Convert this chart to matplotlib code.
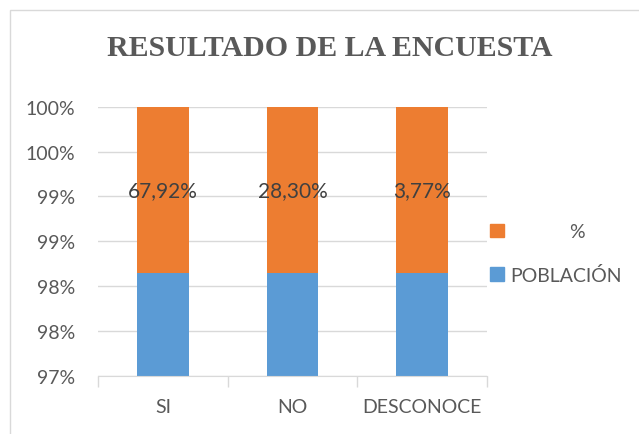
import math
import numpy as np
import matplotlib
matplotlib.use("Agg")
import matplotlib.pyplot as plt
from matplotlib.patches import Rectangle, Patch
from matplotlib.ticker import FuncFormatter

plt.rcParams['font.family'] = ['Lato', 'DejaVu Sans']

categories = ["SI", "NO", "DESCONOCE"]
poblacion = np.array([36, 15, 2])
porcentaje = np.array([0.6792, 0.2830, 0.0377])
pct_labels = ["67,92%", "28,30%", "3,77%"]

total = poblacion + porcentaje
share_pob = poblacion / total
share_pct = porcentaje / total

blue = "#5b9bd5"
orange = "#ed7d31"
grid_c = "#d9d9d9"
text_c = "#595959"

fig = plt.figure(figsize=(6.39, 4.35), dpi=100)
fig.patches.append(Rectangle((10 / 639, -0.1), 1.2, 1 - 11 / 435 + 0.1,
                             transform=fig.transFigure, fill=False,
                             edgecolor=grid_c, linewidth=1))

ax = fig.add_axes([98.3 / 639, 1 - 377 / 435, (486.7 - 98.3) / 639, (377 - 107.7) / 435])
x = np.arange(len(categories))
ax.bar(x, share_pob, width=0.4, color=blue, zorder=3)
ax.bar(x, share_pct, width=0.4, bottom=share_pob, color=orange, zorder=3)

for xi, b, h, lab in zip(x, share_pob, share_pct, pct_labels):
    ax.text(xi, b + h / 2, lab, ha="center", va="center", fontsize=15,
            color="#404040", zorder=4)

ax.set_xlim(-0.5, 2.5)
ax.set_ylim(0.97, 1.0)
ax.set_yticks(np.linspace(0.97, 1.0, 7))
ax.yaxis.set_major_formatter(FuncFormatter(lambda v, p: "%d%%" % math.floor(v * 100 + 0.5 + 1e-9)))
ax.grid(axis="y", color=grid_c, linewidth=1, zorder=0)
ax.set_xticks(x)
ax.set_xticklabels(categories)
ax.set_xticks([-0.5, 0.5, 1.5, 2.5], minor=True)
ax.tick_params(axis="x", which="major", length=0, pad=16, labelsize=14, labelcolor=text_c)
ax.tick_params(axis="x", which="minor", length=8, color=grid_c, width=1)
ax.tick_params(axis="y", length=0, pad=16.5, labelsize=14, labelcolor=text_c)
for s in ["top", "right", "left"]:
    ax.spines[s].set_visible(False)
ax.spines["bottom"].set_color(grid_c)
ax.spines["bottom"].set_zorder(5)

fig.text(330 / 639, 1 - 49 / 435, "RESULTADO DE LA ENCUESTA", ha="center", va="center",
         fontsize=21.5, fontweight="bold", color=text_c, family="Liberation Serif")

handles = [Patch(color=orange), Patch(color=blue)]
labels = ["            %", "POBLACIÓN"]
fig.legend(handles, labels, loc="center left", bbox_to_anchor=(490 / 639, 1 - 254.5 / 435),
           frameon=False, fontsize=14, labelcolor=text_c, borderpad=0, borderaxespad=0,
           handlelength=0.72, handleheight=0.72, handletextpad=0.3, labelspacing=1.3)

fig.savefig("out.png", dpi=100)
